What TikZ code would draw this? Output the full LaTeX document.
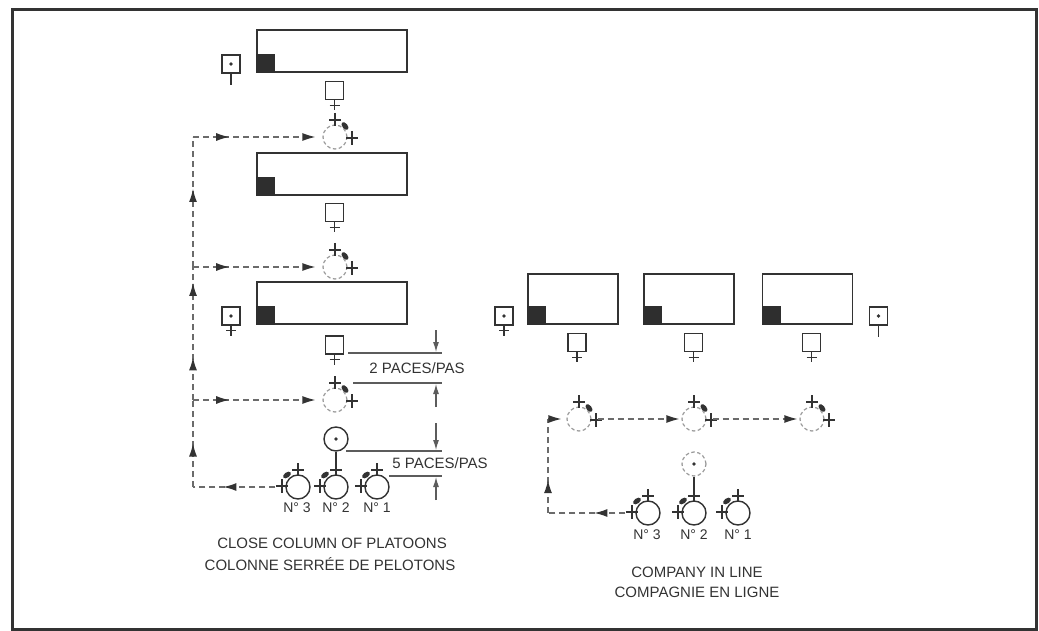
\documentclass[tikz,border=0pt]{standalone}
\usepackage{fontspec}
\setmainfont{Liberation Sans}
\usepackage{tikz}
\usetikzlibrary{arrows.meta,decorations.markings}
\definecolor{ink}{rgb}{0.2, 0.2, 0.2}
\definecolor{trail}{rgb}{0.42, 0.42, 0.42}
\definecolor{ghost}{rgb}{0.6, 0.6, 0.6}
\tikzstyle{platoon}=[rectangle,draw=ink,line width=1.6pt,inner sep=0pt,minimum width=150pt,minimum height=42pt]
\tikzstyle{section}=[platoon,minimum width=90pt,minimum height=50pt]
\tikzstyle{flag}=[rectangle,fill=ink!90!black,inner sep=0pt,minimum size=19pt]
\tikzstyle{nco}=[rectangle,draw=ink,line width=1.4pt,inner sep=0pt,minimum size=18pt]
\tikzstyle{boss}=[rectangle,draw=ink,line width=1.4pt,inner sep=0pt,minimum size=18pt]
\tikzstyle{spot}=[circle,draw=ghost,line width=1.2pt,dash pattern=on 3.5pt off 2.5pt,inner sep=0pt,minimum size=24pt]
\tikzstyle{man}=[circle,draw=ink,line width=1.4pt,inner sep=0pt,minimum size=24pt]
\tikzstyle{route}=[trail,line width=1.2pt,dash pattern=on 6pt off 4pt]
\tikzstyle{dim}=[ink!80,line width=1.1pt]
\tikzstyle{caption}=[text=ink,inner sep=0pt,font=\fontsize{15}{18}\selectfont]
\tikzstyle{numtag}=[text=ink,inner sep=0pt,font=\fontsize{14}{16}\selectfont]
\tikzstyle{head}=[-{Latex[length=13pt,width=8pt,ink]}]
\tikzset{tipat/.style={postaction={decorate,decoration={markings,
  mark=at position #1 with {\arrow[ink]{Latex[length=13pt,width=8pt]}}}}}}
\newcommand{\crossbelow}[1]{\draw[ink,line width=1.2pt] (#1.south) -- ++(0,10) ([shift={(-5,5)}]#1.south) -- ++(10,0);}
\newcommand{\tailbelow}[1]{\draw[ink,line width=1.2pt] (#1.south) -- ++(0,11);}
\newcommand{\kitright}[1]{%
  \begin{scope}[shift={(#1.center)},ink,line width=1.2pt]
    \draw (-6,-17) -- (6,-17) (0,-24) -- (0,-11);
    \draw (11,1) -- (23,1) (17,-6) -- (17,8);
    \fill (10,-11) ellipse [x radius=4.5pt,y radius=2.6pt,rotate=-50];
  \end{scope}}
\newcommand{\kitleft}[1]{%
  \begin{scope}[shift={(#1.center)},ink,line width=1.2pt]
    \draw (-6,-17) -- (6,-17) (0,-24) -- (0,-11);
    \draw (-22,-1) -- (-10,-1) (-16,-8) -- (-16,6);
    \fill (-11,-12) ellipse [x radius=4.5pt,y radius=2.6pt,rotate=35];
  \end{scope}}

\begin{document}
\begin{tikzpicture}[x=1pt,y=-1pt]
\useasboundingbox (0,0) rectangle (1039,631);
\draw[ink,line width=3pt] (12,10) rectangle (1036,629);

% close column of platoons
\node[platoon] (p1) at (332,51) {};
\node[platoon] (p2) at (332,174) {};
\node[platoon] (p3) at (332,303) {};
\node[flag,anchor=south west] (f1) at (p1.south west) {};
\node[flag,anchor=south west] (f2) at (p2.south west) {};
\node[flag,anchor=south west] (f3) at (p3.south west) {};
\node[boss] (o1) at (231,64) {};
\node[boss] (o2) at (231,316) {};
\fill[ink] (o1) circle (1.8pt);
\fill[ink] (o2) circle (1.8pt);
\tailbelow{o1}
\crossbelow{o2}
\node[nco] (n1) at (334.5,90.5) {};
\node[nco] (n2) at (334.5,212.5) {};
\node[nco] (n3) at (334.5,345) {};
\crossbelow{n1}
\crossbelow{n2}
\crossbelow{n3}
\node[spot] (m1) at (335,137) {};
\node[spot] (m2) at (335,267) {};
\node[spot] (m3) at (335,400) {};
\kitright{m1}
\kitright{m2}
\kitright{m3}
\node[man] (chief) at (336,439) {};
\fill[ink] (chief) circle (1.8pt);
\node[man] (l3) at (298,487) {};
\node[man] (l2) at (336,487) {};
\node[man] (l1) at (377,487) {};
\kitleft{l3}
\kitleft{l2}
\kitleft{l1}
\draw[ink,line width=1.2pt] (chief.south) -- (l2.north);
\node[numtag] (t3) at (297,508) {N° 3};
\node[numtag] (t2) at (336,508) {N° 2};
\node[numtag] (t1) at (377,508) {N° 1};

\coordinate (c0) at (193,487);
\coordinate (c1) at (193,400);
\coordinate (c2) at (193,267);
\coordinate (c3) at (193,137);
\draw[route,tipat=0.63] ([xshift=-10pt]l3.west) -- (c0);
\draw[route,tipat=0.5] (c0) -- (c1);
\draw[route,tipat=0.32,tipat=0.88] (c1) -- (c2);
\draw[route,tipat=0.6] (c2) -- (c3);
\draw[route,head,tipat=0.28,shorten >=7pt] (c3) -- (m1);
\draw[route,head,tipat=0.28,shorten >=7pt] (c2) -- (m2);
\draw[route,head,tipat=0.28,shorten >=7pt] (c1) -- (m3);

% distances
\coordinate (k1) at (436,330);
\coordinate (k2) at (436,407);
\coordinate (k3) at (436,423);
\coordinate (k4) at (436,500);
\draw[dim] (348,353) -- (442,353);
\draw[dim] (353,383) -- (442,383);
\draw[dim] (346,451) -- (442,451);
\draw[dim] (389,476) -- (442,476);
\draw[dim,-{Latex[length=10pt,width=6pt]}] (k1) -- (436,352);
\draw[dim,-{Latex[length=10pt,width=6pt]}] (k2) -- (436,384);
\draw[dim,-{Latex[length=10pt,width=6pt]}] (k3) -- (436,450);
\draw[dim,-{Latex[length=10pt,width=6pt]}] (k4) -- (436,477);
\node[caption] (pace2) at (417,368) {2 PACES/PAS};
\node[caption] (pace5) at (440,463) {5 PACES/PAS};

\node[caption] (cap1) at (332,543) {CLOSE COLUMN OF PLATOONS};
\node[caption] (cap2) at (330,564) {COLONNE SERRÉE DE PELOTONS};

% company in line
\node[section] (r1) at (573,299) {};
\node[section] (r2) at (689,299) {};
\node[section] (r3) at (807.5,299) {};
\node[flag,anchor=south west] (f4) at (r1.south west) {};
\node[flag,anchor=south west] (f5) at (r2.south west) {};
\node[flag,anchor=south west] (f6) at (r3.south west) {};
\node[boss] (o3) at (504,316) {};
\node[boss] (o4) at (878.5,316) {};
\fill[ink] (o3) circle (1.8pt);
\fill[ink] (o4) circle (1.8pt);
\crossbelow{o3}
\tailbelow{o4}
\node[nco] (q1) at (577,342.5) {};
\node[nco] (q2) at (693.5,342.5) {};
\node[nco] (q3) at (811.5,342.5) {};
\crossbelow{q1}
\crossbelow{q2}
\crossbelow{q3}
\node[spot] (a1) at (579,419) {};
\node[spot] (a2) at (694,419) {};
\node[spot] (a3) at (812,419) {};
\kitright{a1}
\kitright{a2}
\kitright{a3}
\node[spot] (lead) at (694,464) {};
\fill[ink] (lead) circle (1.8pt);
\node[man] (b3) at (648,513) {};
\node[man] (b2) at (694,513) {};
\node[man] (b1) at (738,513) {};
\kitleft{b3}
\kitleft{b2}
\kitleft{b1}
\draw[ink,line width=1.2pt] (lead.south) -- (b2.north);
\node[numtag] (t6) at (647,535) {N° 3};
\node[numtag] (t5) at (694,535) {N° 2};
\node[numtag] (t4) at (738,535) {N° 1};

\coordinate (e0) at (548,513);
\coordinate (e1) at (548,419);
\draw[route,tipat=0.4] ([xshift=-10pt]b3.west) -- (e0);
\draw[route,tipat=0.35] (e0) -- (e1);
\draw[route,head,shorten >=5pt] (e1) -- (a1);
\draw[route,head,shorten >=2pt] ([xshift=6pt]a1.east) -- (a2);
\draw[route,head,shorten >=2pt] ([xshift=6pt]a2.east) -- (a3);

\node[caption] (cap3) at (697,572) {COMPANY IN LINE};
\node[caption] (cap4) at (697,592) {COMPAGNIE EN LIGNE};
\end{tikzpicture}
\end{document}
